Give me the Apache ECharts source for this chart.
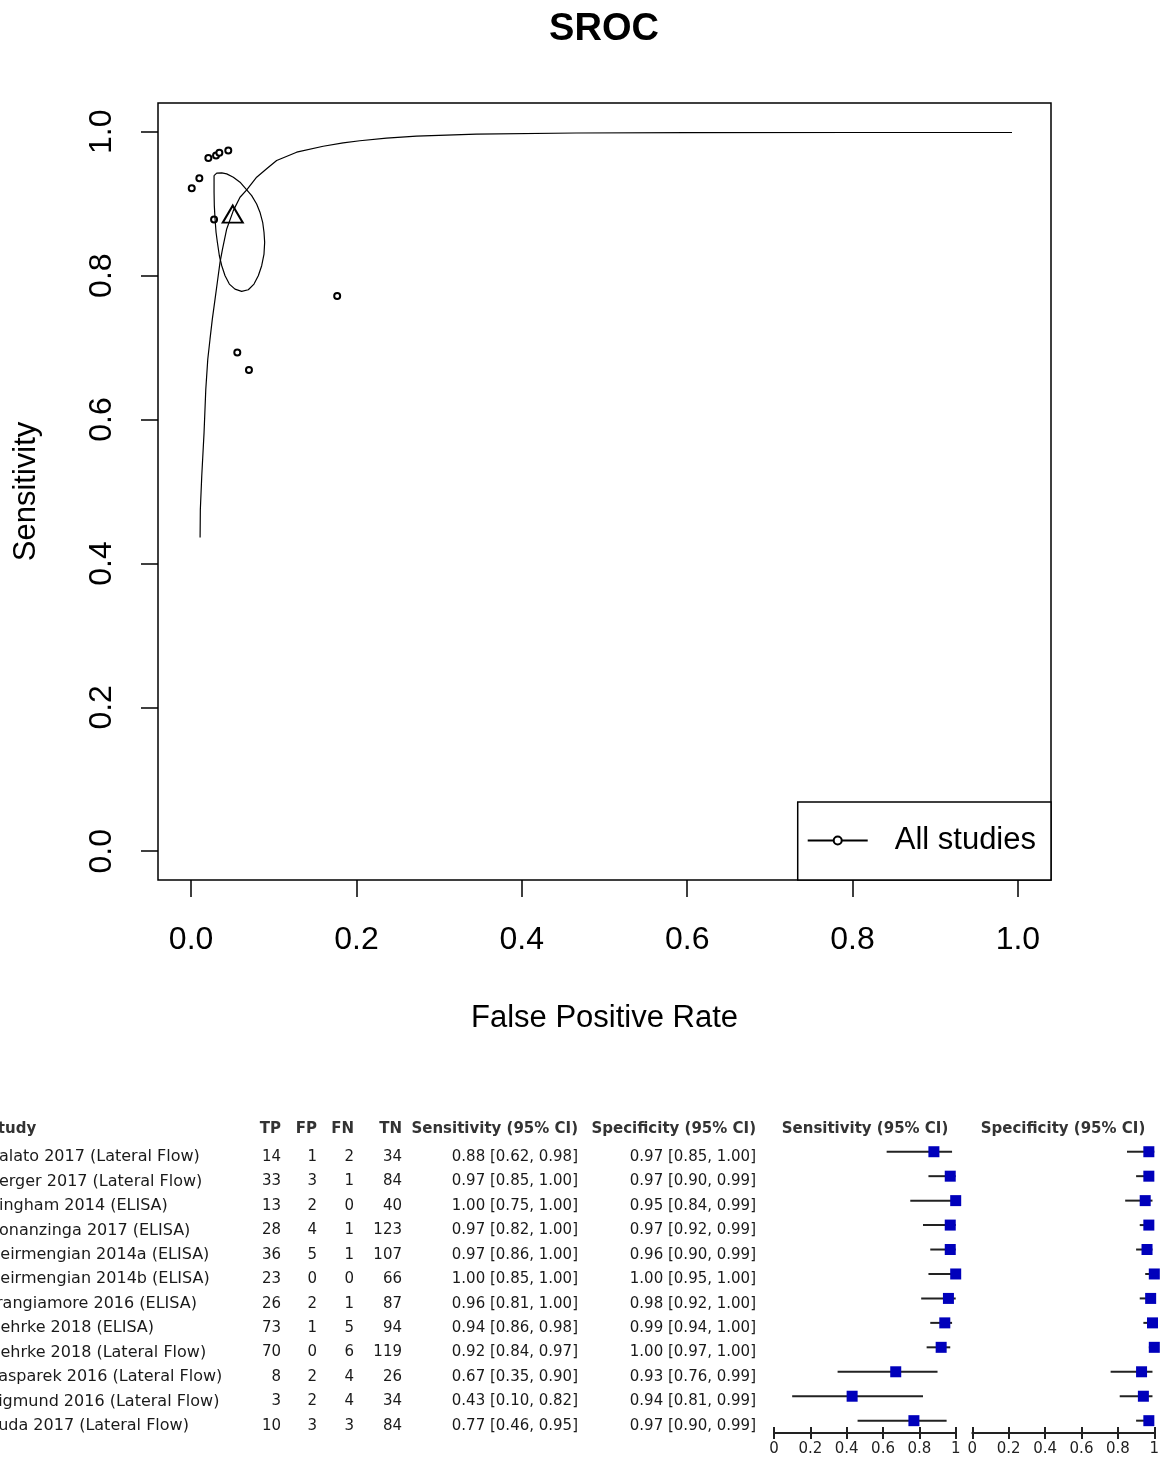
<!DOCTYPE html>
<html><head><meta charset="utf-8">
<script src="https://cdn.jsdelivr.net/npm/echarts@6/dist/echarts.min.js"></script>
<style>html,body{margin:0;padding:0;background:#fff}#c{width:1164px;height:1459px}</style>
</head><body><div id="c"></div>
<script>
// ---------- SROC data ----------
const srocTicks = [0, 0.2, 0.4, 0.6, 0.8, 1.0];
const srocCurve = [[0.0109,0.4359],[0.0112,0.4749],[0.0129,0.5213],[0.0157,0.5818],[0.0178,0.6421],[0.0202,0.6838],[0.0229,0.7117],[0.0257,0.7396],[0.0290,0.7674],[0.0320,0.7929],[0.0350,0.8185],[0.0380,0.8370],[0.0431,0.8649],[0.0511,0.8904],[0.0592,0.9090],[0.0673,0.9192],[0.0793,0.9369],[0.0914,0.9485],[0.1035,0.9600],[0.1277,0.9716],[0.1598,0.9799],[0.1839,0.9847],[0.2041,0.9875],[0.2363,0.9912],[0.2726,0.9940],[0.3450,0.9968],[0.4658,0.9983],[0.6,0.9988],[0.8,0.9990],[0.9928,0.9990]];
const confRegion = [[0.0278,0.9391],[0.0310,0.9425],[0.0371,0.9429],[0.0431,0.9415],[0.0511,0.9369],[0.0592,0.9299],[0.0673,0.9192],[0.0733,0.9113],[0.0793,0.8997],[0.0833,0.8882],[0.0866,0.8742],[0.0882,0.8603],[0.0890,0.8464],[0.0882,0.8301],[0.0854,0.8138],[0.0813,0.7999],[0.0761,0.7883],[0.0692,0.7804],[0.0612,0.7781],[0.0531,0.7813],[0.0463,0.7883],[0.0411,0.7999],[0.0371,0.8138],[0.0342,0.8277],[0.0318,0.8464],[0.0302,0.8603],[0.0290,0.8788],[0.0281,0.8974],[0.0278,0.9160],[0.0278,0.9345],[0.0278,0.9391]];
const studyFpr  = [0.0008, 0.0100, 0.0209, 0.0302, 0.0342, 0.0450, 0.0278, 0.1767, 0.0559, 0.0700];
const studySens = [0.9216, 0.9355, 0.9634, 0.9670, 0.9708, 0.9740, 0.8779, 0.7716, 0.6932, 0.6689];
const summaryPoint = [0.0504, 0.8813];

// ---------- Forest table data ----------
const studies = ["Balato 2017 (Lateral Flow)","Berger 2017 (Lateral Flow)","Bingham 2014 (ELISA)","Bonanzinga 2017 (ELISA)","Deirmengian 2014a (ELISA)","Deirmengian 2014b (ELISA)","Frangiamore 2016 (ELISA)","Gehrke 2018 (ELISA)","Gehrke 2018 (Lateral Flow)","Kasparek 2016 (Lateral Flow)","Sigmund 2016 (Lateral Flow)","Suda 2017 (Lateral Flow)"];
const TP = [14,33,13,28,36,23,26,73,70,8,3,10];
const FP = [1,3,2,4,5,0,2,1,0,2,2,3];
const FN = [2,1,0,1,1,0,1,5,6,4,4,3];
const TN = [34,84,40,123,107,66,87,94,119,26,34,84];
const sensEst = [0.88,0.97,1.00,0.97,0.97,1.00,0.96,0.94,0.92,0.67,0.43,0.77];
const sensLo  = [0.62,0.85,0.75,0.82,0.86,0.85,0.81,0.86,0.84,0.35,0.10,0.46];
const sensHi  = [0.98,1.00,1.00,1.00,1.00,1.00,1.00,0.98,0.97,0.90,0.82,0.95];
const specEst = [0.97,0.97,0.95,0.97,0.96,1.00,0.98,0.99,1.00,0.93,0.94,0.97];
const specLo  = [0.85,0.90,0.84,0.92,0.90,0.95,0.92,0.94,0.97,0.76,0.81,0.90];
const specHi  = [1.00,0.99,0.99,0.99,0.99,1.00,1.00,1.00,1.00,0.99,0.99,0.99];

const chart = echarts.init(document.getElementById('c'), null, {renderer:'canvas'});
const SF = 'Liberation Sans, Arial, sans-serif';
const TF = 'DejaVu Sans, sans-serif';

// table text
const g = [];
const hdrY = 1129, row0 = 1157, dy = 24.45;
function txt(s, x, y, align, bold, size, fill){
  g.push({type:'text', x:x, y:y, silent:true,
    style:{text:s, font:(bold?'bold ':'')+(size||15)+'px '+TF, fill:fill||'#1a1a1a', align:align, textAlign:align, verticalAlign:'middle', textVerticalAlign:'middle'}});
}
txt('Study', -13, hdrY, 'left', true, 15, '#333');
txt('TP', 281, hdrY, 'right', true, 15, '#333');
txt('FP', 317, hdrY, 'right', true, 15, '#333');
txt('FN', 354, hdrY, 'right', true, 15, '#333');
txt('TN', 402, hdrY, 'right', true, 15, '#333');
txt('Sensitivity (95% CI)', 578, hdrY, 'right', true, 15, '#333');
txt('Specificity (95% CI)', 756, hdrY, 'right', true, 15, '#333');
txt('Sensitivity (95% CI)', 865, hdrY, 'center', true, 15, '#333');
txt('Specificity (95% CI)', 1063, hdrY, 'center', true, 15, '#333');
const f2 = v => v.toFixed(2);
studies.forEach((s, i) => {
  const y = row0 + i*dy;
  txt(s, -12, y, 'left', false, 16);
  txt(String(TP[i]), 281, y, 'right');
  txt(String(FP[i]), 317, y, 'right');
  txt(String(FN[i]), 354, y, 'right');
  txt(String(TN[i]), 402, y, 'right');
  txt(f2(sensEst[i])+' ['+f2(sensLo[i])+', '+f2(sensHi[i])+']', 578, y, 'right');
  txt(f2(specEst[i])+' ['+f2(specLo[i])+', '+f2(specHi[i])+']', 756, y, 'right');
});

function ciRender(params, api){
  const p1 = api.coord([api.value(0), api.value(2)]);
  const p2 = api.coord([api.value(1), api.value(2)]);
  return {type:'line', shape:{x1:p1[0], y1:p1[1], x2:p2[0], y2:p2[1]}, style:{stroke:'#222', lineWidth:2}};
}
function forestX(gi, main){
  return {gridIndex:gi, type:'value', min:0, max:1, interval:0.2, position:'bottom',
    axisLine:{show:main, onZero:false, lineStyle:{color:'#222', width:2}},
    axisTick:{show:true, inside:!main, length:6, lineStyle:{color:'#222', width:2}},
    axisLabel:{show:main, fontSize:15, fontFamily:TF, color:'#222', margin:9},
    splitLine:{show:false}};
}
function forestY(gi){
  return {gridIndex:gi, type:'category', data:studies, inverse:true, boundaryGap:true,
    axisLine:{show:false}, axisTick:{show:false}, axisLabel:{show:false}, splitLine:{show:false}};
}

const option = {
  animation:false,
  backgroundColor:'#fff',
  title:{text:'SROC', left:604, top:11, padding:0, textAlign:'center',
    textStyle:{fontSize:38, fontWeight:'bold', fontFamily:SF, color:'#000'}},
  legend:{data:['All studies'], right:113, bottom:579, orient:'horizontal', selectedMode:false,
    itemWidth:60, itemHeight:10, padding:[23,15,24,9], borderColor:'#000', borderWidth:1.5,
    backgroundColor:'#fff', textStyle:{fontSize:31, fontFamily:SF, color:'#000', padding:[0,0,0,22]}},
  grid:[
    {left:158, top:103, width:893, height:777, show:true, borderColor:'#000', borderWidth:1.5, backgroundColor:'transparent'},
    {left:774, top:1139.5, width:181.7, height:293.4},
    {left:972.3, top:1139.5, width:182, height:293.4}
  ],
  xAxis:[
    {gridIndex:0, type:'value', min:-0.04, max:1.04, name:'False Positive Rate', nameLocation:'middle', nameGap:123,
      nameMoveOverlap:false,
      nameTextStyle:{fontSize:31, fontFamily:SF, color:'#000'},
      axisLine:{show:false, onZero:false}, splitLine:{show:false},
      axisTick:{show:true, length:17, customValues:srocTicks, lineStyle:{color:'#000', width:1.5}},
      axisLabel:{customValues:srocTicks, formatter:v=>v.toFixed(1), fontSize:32, fontFamily:SF, color:'#000', margin:44}},
    forestX(1, true), forestX(1, false), forestX(2, true), forestX(2, false)
  ],
  yAxis:[
    {gridIndex:0, type:'value', min:-0.04, max:1.04, name:'Sensitivity', nameLocation:'middle', nameGap:116,
      nameMoveOverlap:false, nameRotate:90,
      nameTextStyle:{fontSize:31, fontFamily:SF, color:'#000'},
      axisLine:{show:false, onZero:false}, splitLine:{show:false},
      axisTick:{show:true, length:17, customValues:srocTicks, lineStyle:{color:'#000', width:1.5}},
      axisLabel:{customValues:srocTicks, formatter:v=>v.toFixed(1), rotate:90, fontSize:32, fontFamily:SF, color:'#000', margin:40}},
    forestY(1), forestY(2)
  ],
  series:[
    {name:'All studies', type:'line', xAxisIndex:0, yAxisIndex:0, data:srocCurve, showSymbol:false,
      symbol:'emptyCircle', symbolSize:8, color:'#000', lineStyle:{color:'#000', width:1.2}, silent:true},
    {name:'conf', type:'line', xAxisIndex:0, yAxisIndex:0, data:confRegion, showSymbol:false, symbol:'none',
      color:'#000', lineStyle:{color:'#000', width:1.2}, silent:true},
    {name:'studies', type:'scatter', xAxisIndex:0, yAxisIndex:0, data:studyFpr.map((v,i)=>[v, studySens[i]]),
      symbol:'emptyCircle', symbolSize:6, itemStyle:{color:'#000', borderColor:'#000', borderWidth:1, opacity:1}, silent:true},
    {name:'summary', type:'scatter', xAxisIndex:0, yAxisIndex:0, data:[summaryPoint],
      symbol:'emptyTriangle', symbolSize:[20,17], symbolOffset:[0,-3], itemStyle:{color:'#000', borderColor:'#000', borderWidth:1.2, opacity:1}, silent:true},
    {type:'custom', xAxisIndex:1, yAxisIndex:1, renderItem:ciRender, encode:{x:[0,1], y:2},
      data:sensLo.map((v,i)=>[v, sensHi[i], i]), silent:true},
    {type:'scatter', xAxisIndex:1, yAxisIndex:1, symbol:'rect', symbolSize:11, itemStyle:{color:'#0000BB', opacity:1},
      data:sensEst.map((v,i)=>[v, i]), silent:true, z:5},
    {type:'custom', xAxisIndex:3, yAxisIndex:2, renderItem:ciRender, encode:{x:[0,1], y:2},
      data:specLo.map((v,i)=>[v, specHi[i], i]), silent:true},
    {type:'scatter', xAxisIndex:3, yAxisIndex:2, symbol:'rect', symbolSize:11, itemStyle:{color:'#0000BB', opacity:1},
      data:specEst.map((v,i)=>[v, i]), silent:true, z:5}
  ],
  graphic:g
};
chart.setOption(option);
</script>
</body></html>
